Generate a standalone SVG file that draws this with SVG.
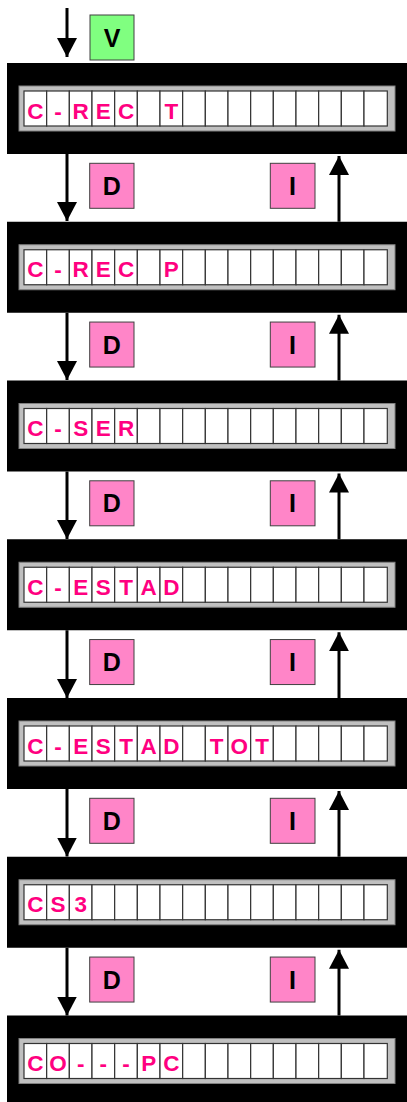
<svg xmlns="http://www.w3.org/2000/svg" xmlns:xlink="http://www.w3.org/1999/xlink" width="407" height="1102" viewBox="0 0 407 1102">
<style>
.frame{fill:#000}
.bezel{fill:#C0C0C0;stroke:#808080;stroke-width:1}
.cell{fill:#fff;stroke:#333;stroke-width:1.2}
.ch{font-family:"Liberation Sans",Arial,sans-serif;font-weight:bold;font-size:22.5px;fill:#FF0080;text-anchor:middle}
.tag{stroke:#404040;stroke-width:1}
.pink{fill:#FF85C8}
.green{fill:#80FF80}
.tl{font-family:"Liberation Sans",Arial,sans-serif;font-weight:bold;font-size:25px;fill:#000;text-anchor:middle}
.wire{stroke:#000;stroke-width:3;fill:none}
</style>
<defs>
<marker id="ah" markerUnits="userSpaceOnUse" markerWidth="20" markerHeight="20" viewBox="0 0 20 20" refX="19" refY="10" orient="auto">
<path d="M0,0 L19,10 L0,20 Z" fill="#000"/>
</marker>
<g id="disp">
<rect class="frame" x="7" y="0" width="402" height="91"/>
<rect class="bezel" x="19" y="23" width="376" height="45"/>
<rect class="cell" x="24" y="28" width="22.67" height="35"/>
<rect class="cell" x="46.67" y="28" width="22.67" height="35"/>
<rect class="cell" x="69.33" y="28" width="22.67" height="35"/>
<rect class="cell" x="92" y="28" width="22.67" height="35"/>
<rect class="cell" x="114.67" y="28" width="22.67" height="35"/>
<rect class="cell" x="137.33" y="28" width="22.67" height="35"/>
<rect class="cell" x="160" y="28" width="22.67" height="35"/>
<rect class="cell" x="182.67" y="28" width="22.67" height="35"/>
<rect class="cell" x="205.33" y="28" width="22.67" height="35"/>
<rect class="cell" x="228" y="28" width="22.67" height="35"/>
<rect class="cell" x="250.67" y="28" width="22.67" height="35"/>
<rect class="cell" x="273.33" y="28" width="22.67" height="35"/>
<rect class="cell" x="296" y="28" width="22.67" height="35"/>
<rect class="cell" x="318.67" y="28" width="22.67" height="35"/>
<rect class="cell" x="341.33" y="28" width="22.67" height="35"/>
<rect class="cell" x="364" y="28" width="23.3" height="35"/>
</g>
</defs>

<g id="connectors">
<line class="wire" x1="67" y1="8" x2="67" y2="57" marker-end="url(#ah)"/>
<line class="wire" x1="67" y1="154" x2="67" y2="221" marker-end="url(#ah)"/>
<line class="wire" x1="67" y1="312.75" x2="67" y2="380" marker-end="url(#ah)"/>
<line class="wire" x1="67" y1="471.5" x2="67" y2="539" marker-end="url(#ah)"/>
<line class="wire" x1="67" y1="630.25" x2="67" y2="698" marker-end="url(#ah)"/>
<line class="wire" x1="67" y1="789" x2="67" y2="856.5" marker-end="url(#ah)"/>
<line class="wire" x1="67" y1="947.75" x2="67" y2="1015.5" marker-end="url(#ah)"/>
<line class="wire" x1="339" y1="221.75" x2="339" y2="156" marker-end="url(#ah)"/>
<line class="wire" x1="339" y1="380.5" x2="339" y2="314.75" marker-end="url(#ah)"/>
<line class="wire" x1="339" y1="539.25" x2="339" y2="473.5" marker-end="url(#ah)"/>
<line class="wire" x1="339" y1="698" x2="339" y2="632.25" marker-end="url(#ah)"/>
<line class="wire" x1="339" y1="856.75" x2="339" y2="791" marker-end="url(#ah)"/>
<line class="wire" x1="339" y1="1015.5" x2="339" y2="949.75" marker-end="url(#ah)"/>
</g>

<g id="tag-v"><rect class="tag green" x="90" y="15" width="44" height="45"/><text class="tl" x="112" y="46.5">V</text></g>

<g id="tag-d1"><rect class="tag pink" x="89.7" y="163.3" width="44.3" height="45"/><text class="tl" x="111.8" y="194.8">D</text></g>
<g id="tag-i1"><rect class="tag pink" x="270.3" y="163.3" width="44.7" height="45"/><text class="tl" x="292.6" y="194.8">I</text></g>
<g id="tag-d2"><rect class="tag pink" x="89.7" y="322.05" width="44.3" height="45"/><text class="tl" x="111.8" y="353.55">D</text></g>
<g id="tag-i2"><rect class="tag pink" x="270.3" y="322.05" width="44.7" height="45"/><text class="tl" x="292.6" y="353.55">I</text></g>
<g id="tag-d3"><rect class="tag pink" x="89.7" y="480.8" width="44.3" height="45"/><text class="tl" x="111.8" y="512.3">D</text></g>
<g id="tag-i3"><rect class="tag pink" x="270.3" y="480.8" width="44.7" height="45"/><text class="tl" x="292.6" y="512.3">I</text></g>
<g id="tag-d4"><rect class="tag pink" x="89.7" y="639.55" width="44.3" height="45"/><text class="tl" x="111.8" y="671.05">D</text></g>
<g id="tag-i4"><rect class="tag pink" x="270.3" y="639.55" width="44.7" height="45"/><text class="tl" x="292.6" y="671.05">I</text></g>
<g id="tag-d5"><rect class="tag pink" x="89.7" y="798.3" width="44.3" height="45"/><text class="tl" x="111.8" y="829.8">D</text></g>
<g id="tag-i5"><rect class="tag pink" x="270.3" y="798.3" width="44.7" height="45"/><text class="tl" x="292.6" y="829.8">I</text></g>
<g id="tag-d6"><rect class="tag pink" x="89.7" y="957.05" width="44.3" height="45"/><text class="tl" x="111.8" y="988.55">D</text></g>
<g id="tag-i6"><rect class="tag pink" x="270.3" y="957.05" width="44.7" height="45"/><text class="tl" x="292.6" y="988.55">I</text></g>

<g id="screen1" transform="translate(0,63)">
<use xlink:href="#disp"/>
<text class="ch" x="35.3" y="55.5">C</text><text class="ch" x="58" y="55.5">-</text><text class="ch" x="80.7" y="55.5">R</text><text class="ch" x="103.3" y="55.5">E</text><text class="ch" x="126" y="55.5">C</text><text class="ch" x="171.3" y="55.5">T</text>
</g>
<g id="screen2" transform="translate(0,221.75)">
<use xlink:href="#disp"/>
<text class="ch" x="35.3" y="55.5">C</text><text class="ch" x="58" y="55.5">-</text><text class="ch" x="80.7" y="55.5">R</text><text class="ch" x="103.3" y="55.5">E</text><text class="ch" x="126" y="55.5">C</text><text class="ch" x="171.3" y="55.5">P</text>
</g>
<g id="screen3" transform="translate(0,380.5)">
<use xlink:href="#disp"/>
<text class="ch" x="35.3" y="55.5">C</text><text class="ch" x="58" y="55.5">-</text><text class="ch" x="80.7" y="55.5">S</text><text class="ch" x="103.3" y="55.5">E</text><text class="ch" x="126" y="55.5">R</text>
</g>
<g id="screen4" transform="translate(0,539.25)">
<use xlink:href="#disp"/>
<text class="ch" x="35.3" y="55.5">C</text><text class="ch" x="58" y="55.5">-</text><text class="ch" x="80.7" y="55.5">E</text><text class="ch" x="103.3" y="55.5">S</text><text class="ch" x="126" y="55.5">T</text><text class="ch" x="148.7" y="55.5">A</text><text class="ch" x="171.3" y="55.5">D</text>
</g>
<g id="screen5" transform="translate(0,698)">
<use xlink:href="#disp"/>
<text class="ch" x="35.3" y="55.5">C</text><text class="ch" x="58" y="55.5">-</text><text class="ch" x="80.7" y="55.5">E</text><text class="ch" x="103.3" y="55.5">S</text><text class="ch" x="126" y="55.5">T</text><text class="ch" x="148.7" y="55.5">A</text><text class="ch" x="171.3" y="55.5">D</text><text class="ch" x="216.7" y="55.5">T</text><text class="ch" x="239.3" y="55.5">O</text><text class="ch" x="262" y="55.5">T</text>
</g>
<g id="screen6" transform="translate(0,856.75)">
<use xlink:href="#disp"/>
<text class="ch" x="35.3" y="55.5">C</text><text class="ch" x="58" y="55.5">S</text><text class="ch" x="80.7" y="55.5">3</text>
</g>
<g id="screen7" transform="translate(0,1015.5)">
<use xlink:href="#disp"/>
<text class="ch" x="35.3" y="55.5">C</text><text class="ch" x="58" y="55.5">O</text><text class="ch" x="80.7" y="55.5">-</text><text class="ch" x="103.3" y="55.5">-</text><text class="ch" x="126" y="55.5">-</text><text class="ch" x="148.7" y="55.5">P</text><text class="ch" x="171.3" y="55.5">C</text>
</g>
</svg>
